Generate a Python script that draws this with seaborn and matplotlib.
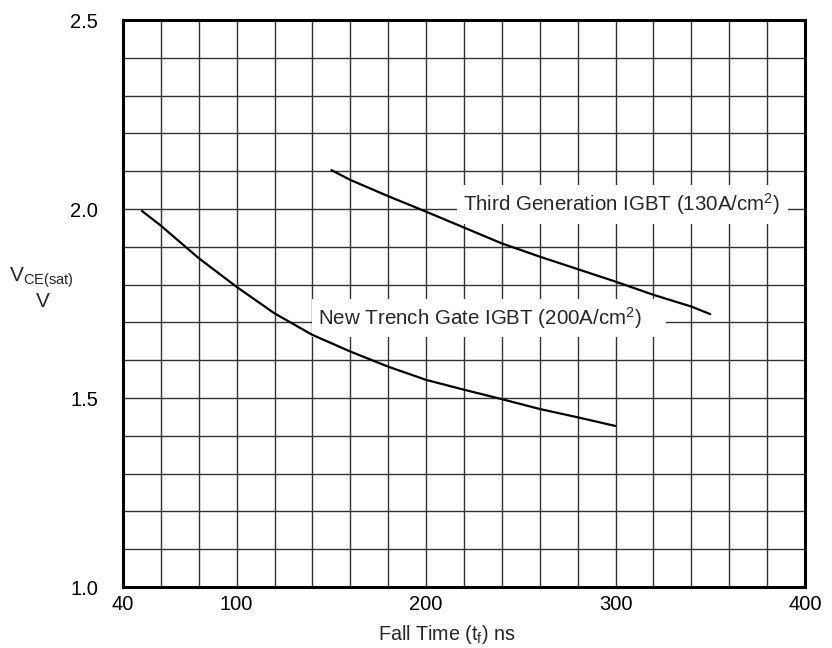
import matplotlib
matplotlib.use("Agg")
import matplotlib.pyplot as plt
from matplotlib.ticker import MultipleLocator, FixedLocator
import seaborn as sns
import pandas as pd

# ---- data ----
third_gen_x = [150, 160, 180, 200, 220, 240, 260, 280, 300, 320, 340, 350]
third_gen_y = [2.103, 2.077, 2.034, 1.993, 1.951, 1.909, 1.874, 1.841, 1.808, 1.773, 1.742, 1.722]
trench_x = [50, 60, 80, 100, 120, 140, 160, 180, 200, 220, 240, 260, 280, 300]
trench_y = [1.995, 1.956, 1.870, 1.794, 1.724, 1.667, 1.623, 1.583, 1.548, 1.522, 1.497, 1.471, 1.449, 1.426]
x_ticks = [40, 100, 200, 300, 400]
y_ticks = [1.0, 1.5, 2.0, 2.5]
label_third = "Third Generation IGBT (130A/cm$^2$) "
label_trench = "New Trench Gate IGBT (200A/cm$^2$)    "

sns.set_style("white")
plt.rcParams['font.family'] = ['Liberation Sans', 'DejaVu Sans']
plt.rcParams['mathtext.fontset'] = 'custom'
plt.rcParams['mathtext.rm'] = 'Liberation Sans'
plt.rcParams['mathtext.it'] = 'Liberation Sans'
plt.rcParams['mathtext.default'] = 'regular'

df_third = pd.DataFrame({"x": third_gen_x, "y": third_gen_y})
df_trench = pd.DataFrame({"x": trench_x, "y": trench_y})

fig = plt.figure(figsize=(8.32, 6.48), dpi=100)
ax = fig.add_axes([0.1478, 0.0941, 0.8197, 0.8750])

ax.set_xlim(40, 400)
ax.set_ylim(1.0, 2.5)
ax.xaxis.set_major_locator(FixedLocator(x_ticks))
ax.yaxis.set_major_locator(FixedLocator(y_ticks))
ax.xaxis.set_minor_locator(MultipleLocator(20))
ax.yaxis.set_minor_locator(MultipleLocator(0.1))
ax.grid(True, which='both', color='#333333', linewidth=1.0, zorder=0)
ax.set_axisbelow(True)

sns.lineplot(data=df_third, x="x", y="y", ax=ax, color='black', linewidth=1.6, zorder=5)
sns.lineplot(data=df_trench, x="x", y="y", ax=ax, color='black', linewidth=1.6, zorder=5)

ax.set_xticklabels([str(v) for v in x_ticks])
ax.set_yticklabels([f"{v:.1f}" for v in y_ticks])
ax.tick_params(axis='both', which='both', length=0, labelsize=14.5, colors='black')
ax.tick_params(axis='x', pad=6)
ax.tick_params(axis='y', pad=18)

for s in ax.spines.values():
    s.set_visible(True)
    s.set_color('black')
    s.set_linewidth(2.2)

ax.set_xlabel("Fall Time (t$_f$) ns", fontsize=14.2)
ax.xaxis.set_label_coords(0.475, -0.064)
ax.set_ylabel("")
fig.text(0.050, 0.571, "V$_{CE(sat)}$", fontsize=15, ha='center', va='center')
fig.text(0.052, 0.535, "V", fontsize=15, ha='center', va='center')

bbox = dict(facecolor='white', edgecolor='none', boxstyle='square,pad=0.3')
ax.text(219.5, 2.012, label_third, fontsize=14.8, ha='left', va='center', bbox=bbox, zorder=4)
ax.text(143, 1.712, label_trench, fontsize=14.8, ha='left', va='center', bbox=bbox, zorder=4)

fig.savefig("out.png", dpi=100)
